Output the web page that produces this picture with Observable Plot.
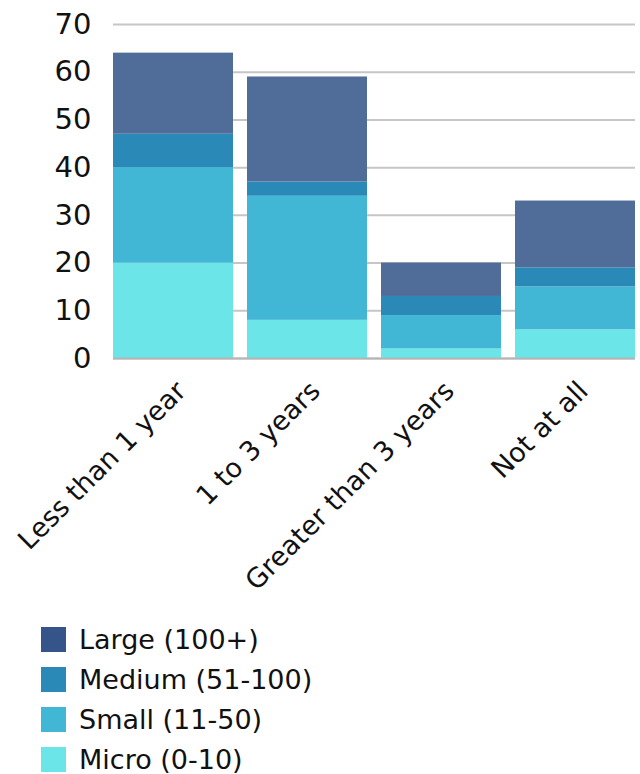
<!DOCTYPE html>
<html>
<head>
<meta charset="utf-8">
<script src="https://cdn.jsdelivr.net/npm/d3@7"></script>
<script src="https://cdn.jsdelivr.net/npm/@observablehq/plot@0.6"></script>
<style>
  html, body { margin: 0; padding: 0; background: #fff; }
  body { width: 640px; height: 774px; overflow: hidden; font-family: "DejaVu Sans", sans-serif; }
  #chart svg { display: block; }
  #legend { position: absolute; left: 41px; top: 619px; }
  .item { display: flex; align-items: center; height: 40px; font-size: 27px; color: #111; }
  .sw { width: 25px; height: 25px; margin-right: 13px; flex: none; }
</style>
</head>
<body>
<div id="chart"></div>
<div id="legend"></div>
<script>
const categories = ["Less than 1 year", "1 to 3 years", "Greater than 3 years", "Not at all"];
const sizes = ["Micro (0-10)", "Small (11-50)", "Medium (51-100)", "Large (100+)"];
const micro = [20, 8, 2, 6];
const small = [20, 26, 7, 9];
const medium = [7, 3, 4, 4];
const large = [17, 22, 7, 14];
const yTicks = [0, 10, 20, 30, 40, 50, 60, 70];

const barColors = ["#6be5e8", "#41b6d5", "#2b89b8", "#4f6d98"];
const legendColors = ["#6be5e8", "#41b6d5", "#2b89b8", "#34548a"];

const series = [micro, small, medium, large];
const data = [];
sizes.forEach((s, i) => categories.forEach((c, j) => data.push({category: c, size: s, value: series[i][j]})));

const chart = Plot.plot({
  width: 640,
  height: 612,
  marginTop: 24,
  marginLeft: 113,
  marginRight: 5,
  marginBottom: 254,
  style: {fontFamily: "DejaVu Sans, sans-serif", fontSize: "28px", color: "#111", background: "transparent"},
  x: {domain: categories, paddingInner: 0.105, paddingOuter: 0, label: null},
  y: {domain: [0, 70], ticks: yTicks, label: null},
  color: {domain: sizes, range: barColors},
  marks: [
    Plot.gridY(yTicks, {stroke: "#c6c6c6", strokeOpacity: 1, strokeWidth: 2}),
    Plot.barY(data, {x: "category", y: "value", fill: "size", order: sizes}),
    Plot.ruleY([0], {stroke: "#b5b5b5", strokeWidth: 2}),
    Plot.axisY(yTicks, {tickSize: 0, tickPadding: 22, fontSize: 29, tickFormat: d => d}),
    Plot.axisX({tickSize: 0, tickRotate: -45, fontSize: 27, tickPadding: 28, dx: 8})
  ]
});
document.getElementById("chart").appendChild(chart);

const legend = document.getElementById("legend");
for (let i = sizes.length - 1; i >= 0; i--) {
  const row = document.createElement("div");
  row.className = "item";
  const sw = document.createElement("span");
  sw.className = "sw";
  sw.style.background = legendColors[i];
  const t = document.createElement("span");
  t.textContent = sizes[i];
  row.appendChild(sw);
  row.appendChild(t);
  legend.appendChild(row);
}
</script>
</body>
</html>
